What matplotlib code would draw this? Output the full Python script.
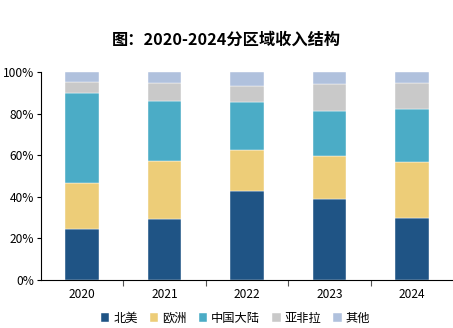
import matplotlib
matplotlib.use("Agg")
import matplotlib.pyplot as plt
import numpy as np
from matplotlib.ticker import FixedLocator, PercentFormatter

plt.rcParams['font.family'] = ['Noto Sans CJK SC', 'DejaVu Sans']

years = ['2020', '2021', '2022', '2023', '2024']
series_names = ['北美', '欧洲', '中国大陆', '亚非拉', '其他']
north_america = [24.3, 29.1, 42.7, 39.0, 29.8]
europe = [22.1, 28.0, 20.0, 20.8, 26.7]
china = [43.4, 29.0, 22.7, 21.5, 25.7]
afr_lat = [5.6, 8.6, 8.0, 12.9, 12.7]
others = [4.6, 5.3, 6.6, 5.8, 5.1]
colors = ['#1F5485', '#EDCD78', '#4BACC6', '#C9C9C9', '#B0C1DD']

fig = plt.figure(figsize=(4.53, 3.28), dpi=100)
ax = fig.add_axes([0.0905, 0.1463, 0.9095, 0.6342])

x = np.arange(len(years))
bottom = np.zeros(len(years))
for name, vals, c in zip(series_names, [north_america, europe, china, afr_lat, others], colors):
    ax.bar(x, vals, bottom=bottom, width=0.41, color=c, label=name,
           edgecolor='white', linewidth=0.3)
    bottom += np.array(vals)

ax.set_xlim(-0.5, len(years) - 0.5)
ax.set_ylim(0, 100)
ax.set_yticks(np.arange(0, 101, 20))
ax.yaxis.set_major_formatter(PercentFormatter(decimals=0))
ax.set_xticks(x)
ax.set_xticklabels(years)
ax.xaxis.set_minor_locator(FixedLocator(np.arange(0.5, len(years) - 0.5, 1)))
ax.tick_params(axis='x', which='major', length=0, labelsize=8.6, pad=6)
ax.tick_params(axis='x', which='minor', length=4, width=0.8, color='#555555')
ax.tick_params(axis='y', length=3, width=0.8, labelsize=8.6, pad=2)
ax.spines['top'].set_visible(False)
ax.spines['right'].set_visible(False)
ax.spines['left'].set_linewidth(0.8)
ax.spines['bottom'].set_linewidth(0.8)

fig.text(0.5, 0.878, '图：2020-2024分区域收入结构', ha='center', va='center',
         fontsize=11.7, fontweight='bold')

fig.legend(loc='center', bbox_to_anchor=(0.52, 0.03), ncol=5, frameon=False,
           fontsize=8.8, handlelength=0.7, handleheight=0.7, handletextpad=0.3,
           columnspacing=1.0)

fig.savefig('out.png', dpi=100)
